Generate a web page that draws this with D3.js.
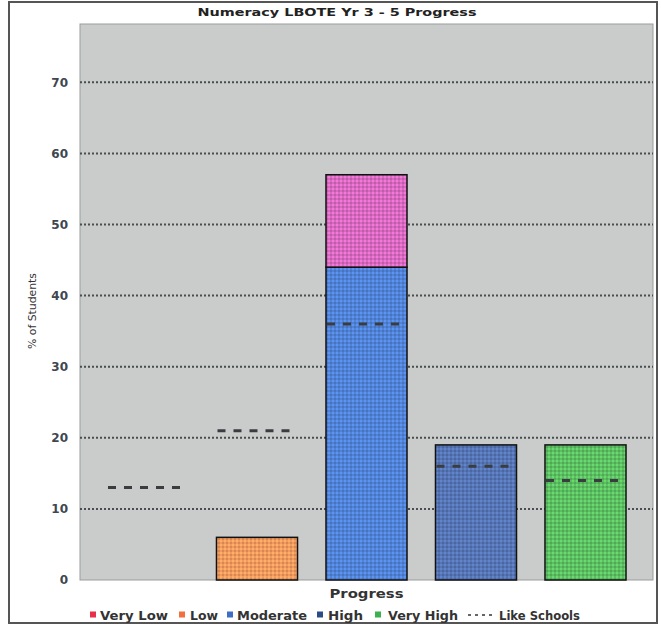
<!DOCTYPE html>
<html>
<head>
<meta charset="utf-8">
<script src="https://cdn.jsdelivr.net/npm/d3@7"></script>
<style>
  html, body { margin: 0; padding: 0; background: #ffffff; }
  svg { display: block; font-family: "DejaVu Sans", "Liberation Sans", Arial, sans-serif; }
</style>
</head>
<body>
<svg id="chart" width="661" height="630"></svg>
<script>
// Progress bands and percentage of students in each
const categories = ["Very Low", "Low", "Moderate", "High", "Very High"];
const studentPct = [0, 6, 44, 19, 19];
const upperPct = [0, 0, 13, 0, 0];
const likeSchoolsPct = [13, 21, 36, 16, 14];
const yTicks = [0, 10, 20, 30, 40, 50, 60, 70];
const legendLabels = ["Very Low", "Low", "Moderate", "High", "Very High", "Like Schools"];

const barColors = ["#e8304a", "#f39a5e", "#5083d6", "#5675b4", "#5cc062"];
const upperColor = "#d76ac0";
const legendColors = ["#e8304a", "#f07040", "#3f6fc4", "#2c4c86", "#3eb050"];

const svg = d3.select("#chart");
const plot = { left: 80, right: 653, top: 24, bottom: 580 };

// outer frame
svg.append("rect").attr("x", 9).attr("y", 2).attr("width", 648).attr("height", 621)
  .attr("fill", "#fff").attr("stroke", "#555").attr("stroke-width", 2);

const x = d3.scaleBand().domain(categories).range([plot.left, plot.right])
  .paddingInner(0.26).paddingOuter(0.2465);
const y = d3.scaleLinear().domain([0, 78.2]).range([plot.bottom, plot.top]);

// textured fills for the bars
const defs = svg.append("defs");
function texture(id, color) {
  const p = defs.append("pattern").attr("id", id).attr("patternUnits", "userSpaceOnUse")
    .attr("width", 4).attr("height", 4);
  p.append("rect").attr("width", 4).attr("height", 4).attr("fill", color);
  const light = d3.color(color).brighter(0.35);
  const dark = d3.color(color).darker(0.35);
  p.append("rect").attr("x", 0).attr("y", 0).attr("width", 2).attr("height", 2).attr("fill", light);
  p.append("rect").attr("x", 2).attr("y", 2).attr("width", 2).attr("height", 2).attr("fill", dark);
  return `url(#${id})`;
}
const fills = barColors.map((c, i) => texture("tex" + i, c));
const upperFill = texture("texUpper", upperColor);

// plot background
svg.append("rect").attr("x", plot.left).attr("y", plot.top)
  .attr("width", plot.right - plot.left).attr("height", plot.bottom - plot.top)
  .attr("fill", "#c9ccca").attr("stroke", "#9a9d9b").attr("stroke-width", 1);

// dotted gridlines
svg.append("g").selectAll("line").data(yTicks.filter(d => d > 0)).join("line")
  .attr("x1", plot.left).attr("x2", plot.right)
  .attr("y1", d => y(d)).attr("y2", d => y(d))
  .attr("stroke", "#4a4d50").attr("stroke-width", 2).attr("stroke-dasharray", "2,2");

// y axis tick labels
const yAxis = d3.axisLeft(y).tickValues(yTicks).tickSize(0).tickPadding(12).tickFormat(d3.format("d"));
const gy = svg.append("g").attr("transform", `translate(${plot.left},0)`).call(yAxis);
gy.select(".domain").remove();
gy.selectAll("text").attr("font-family", "DejaVu Sans").attr("font-size", 12)
  .attr("font-weight", "bold").attr("fill", "#3e4650");

// bars
const bandData = categories.map((c, i) => ({ c, v: studentPct[i], u: upperPct[i], i }));
svg.append("g").selectAll("rect").data(bandData.filter(d => d.v > 0)).join("rect")
  .attr("x", d => x(d.c)).attr("width", x.bandwidth())
  .attr("y", d => y(d.v)).attr("height", d => y(0) - y(d.v))
  .attr("fill", d => fills[d.i]).attr("stroke", "#111").attr("stroke-width", 1.5);
svg.append("g").selectAll("rect").data(bandData.filter(d => d.u > 0)).join("rect")
  .attr("x", d => x(d.c)).attr("width", x.bandwidth())
  .attr("y", d => y(d.v + d.u)).attr("height", d => y(d.v) - y(d.v + d.u))
  .attr("fill", upperFill).attr("stroke", "#111").attr("stroke-width", 1.5);

// like-schools markers
svg.append("g").selectAll("line").data(categories.map((c, i) => ({ c, v: likeSchoolsPct[i] }))).join("line")
  .attr("x1", d => x(d.c) + 1).attr("x2", d => x(d.c) + x.bandwidth() - 6)
  .attr("y1", d => y(d.v)).attr("y2", d => y(d.v))
  .attr("stroke", "#3a3d40").attr("stroke-width", 3).attr("stroke-dasharray", "8,8");

// titles
svg.append("text").attr("x", 337).attr("y", 16).attr("text-anchor", "middle")
  .attr("font-size", 11).attr("font-weight", "bold").attr("fill", "#222")
  .attr("textLength", 279).attr("lengthAdjust", "spacingAndGlyphs")
  .text("Numeracy LBOTE Yr 3 - 5 Progress");
svg.append("text").attr("x", (plot.left + plot.right) / 2).attr("y", 598).attr("text-anchor", "middle")
  .attr("font-size", 12).attr("font-weight", "bold").attr("fill", "#333")
  .attr("textLength", 74).attr("lengthAdjust", "spacingAndGlyphs")
  .text("Progress");
svg.append("text").attr("transform", "translate(36,311) rotate(-90)").attr("text-anchor", "middle")
  .attr("font-size", 10).attr("fill", "#333")
  .attr("textLength", 76).attr("lengthAdjust", "spacingAndGlyphs")
  .text("% of Students");

// legend
const legendX = [90, 179, 227, 317, 375, 468];
const legendTextX = [100, 190, 237, 328, 388, 499];
const legendTextW = [68, 28, 70, 35, 70, 81];
const lg = svg.append("g").attr("font-size", 12).attr("font-weight", "bold").attr("fill", "#333");
legendLabels.forEach((label, i) => {
  const gx = legendX[i];
  if (i < 5) {
    lg.append("rect").attr("x", gx).attr("y", 611.5).attr("width", 6).attr("height", 6).attr("fill", legendColors[i]);
  } else {
    lg.append("line").attr("x1", gx).attr("x2", gx + 24).attr("y1", 615).attr("y2", 615)
      .attr("stroke", "#666").attr("stroke-width", 2).attr("stroke-dasharray", "3,4");
  }
  lg.append("text").attr("x", legendTextX[i]).attr("y", 619.5)
    .attr("textLength", legendTextW[i]).attr("lengthAdjust", "spacingAndGlyphs").text(label);
});
</script>
</body>
</html>
